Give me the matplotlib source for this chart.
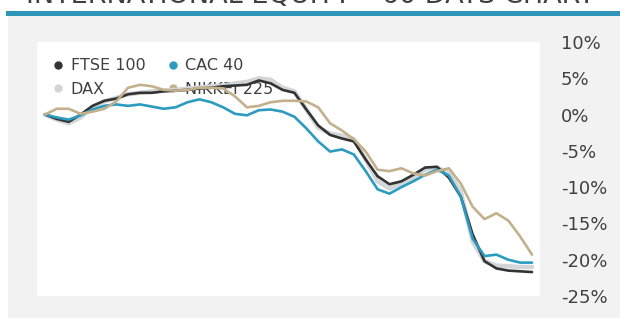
import matplotlib
matplotlib.use("Agg")
from matplotlib import pyplot as plt
from matplotlib.lines import Line2D
from matplotlib.patches import Rectangle
from matplotlib.ticker import FuncFormatter

# daily % change over the 60 day window
ftse = [0.0, -0.6, -1.0, 0.0, 1.2, 1.9, 2.2, 2.8, 3.0, 3.0, 3.2, 3.3, 3.4, 3.6,
        3.7, 3.9, 4.0, 4.1, 4.7, 4.3, 3.4, 3.0, 0.7, -1.5, -2.8, -3.3, -3.7, -6.2,
        -8.5, -9.6, -9.2, -8.3, -7.3, -7.2, -8.7, -11.3, -16.5, -20.2, -21.2, -21.5,
        -21.6, -21.7]
cac = [0.0, -0.4, -0.7, -0.1, 0.7, 1.2, 1.4, 1.2, 1.4, 1.1, 0.8, 1.0, 1.7, 2.1,
       1.7, 1.0, 0.1, -0.1, 0.6, 0.7, 0.4, -0.3, -1.9, -3.7, -5.1, -4.8, -5.5, -7.8,
       -10.3, -10.9, -10.0, -9.2, -8.3, -7.6, -8.4, -11.3, -17.1, -19.5, -19.3,
       -20.0, -20.4, -20.4]
dax = [0.0, -0.7, -1.2, -0.4, 1.0, 1.8, 2.3, 2.8, 3.0, 3.2, 3.3, 3.4, 3.6, 3.7,
       3.9, 4.0, 4.3, 4.5, 5.0, 4.8, 3.7, 3.2, 0.7, -1.8, -2.6, -2.9, -3.4, -6.2,
       -9.2, -10.2, -9.5, -8.7, -7.6, -7.3, -8.1, -10.6, -17.5, -20.2, -20.8, -20.9,
       -21.0, -21.0]
nikkei = [0.0, 0.8, 0.8, 0.1, 0.4, 0.8, 1.8, 3.7, 4.1, 3.9, 3.4, 3.3, 3.4, 3.7,
          3.7, 3.6, 2.5, 1.0, 1.2, 1.7, 1.9, 1.9, 1.8, 1.0, -1.2, -2.2, -3.4, -5.1,
          -7.6, -7.8, -7.4, -8.1, -8.4, -7.8, -7.4, -9.5, -12.7, -14.4, -13.6, -14.6,
          -16.8, -19.3]
names = ["FTSE 100", "CAC 40", "DAX", "NIKKEI 225"]
yticks = [10, 5, 0, -5, -10, -15, -20, -25]

days = list(range(len(ftse)))
c_ftse, c_cac, c_dax, c_nik = "#333333", "#2b9bbf", "#d3d6d8", "#c3b08c"
txt = "#404040"

fig = plt.figure(figsize=(6.2, 3.18), dpi=100)
fig.patch.set_facecolor("white")
fig.patches.append(Rectangle((8 / 620, 0), 1, 1 - 16 / 318, transform=fig.transFigure,
                             facecolor="#f2f2f2", edgecolor="none", zorder=-5))
fig.patches.append(Rectangle((6 / 620, 1 - 16 / 318), 1, 5 / 318, transform=fig.transFigure,
                             facecolor="#2e95b8", edgecolor="none", zorder=-4))
# title sits mostly above the canvas in the original crop
fig.text(0.5, 1 - 3.5 / 318, "INTERNATIONAL EQUITY \u2013 60 DAYS CHART", ha="center",
         va="baseline", fontsize=19.5, color=txt)

ax = fig.add_axes([37 / 620, 1 - 296 / 318, 503 / 620, 254 / 318])
ax.set_facecolor("white")
ax.plot(days, dax, color=c_dax, lw=3.2, zorder=2, solid_capstyle="round")
ax.plot(days, ftse, color=c_ftse, lw=1.9, zorder=3, solid_capstyle="round")
ax.plot(days, cac, color=c_cac, lw=1.9, zorder=3, solid_capstyle="round")
ax.plot(days, nikkei, color=c_nik, lw=1.9, zorder=4, solid_capstyle="round")

ax.set_xlim(-0.67, len(days) - 1 + 0.67)
ax.set_ylim(-25, 10)
ax.set_yticks(yticks)
ax.yaxis.set_major_formatter(FuncFormatter(lambda v, p: f"{v:.0f}%"))
ax.yaxis.tick_right()
ax.tick_params(axis="y", length=0, pad=15, labelsize=13, labelcolor=txt)
ax.set_xticks([])
for s in ax.spines.values():
    s.set_visible(False)

handles = [Line2D([], [], ls="none", marker="o", ms=5, color=c)
           for c in (c_ftse, c_cac, c_dax, c_nik)]
leg = ax.legend([handles[0], handles[2], handles[1], handles[3]],
                [names[0], names[2], names[1], names[3]], ncol=2, frameon=False,
                loc="upper left", bbox_to_anchor=(0.01, 0.98), fontsize=11.5,
                handlelength=0.6, handletextpad=0.5, columnspacing=1.4,
                labelspacing=0.55, borderaxespad=0.3)
for t in leg.get_texts():
    t.set_color(txt)
leg.set_zorder(1)

fig.savefig("out.png", dpi=100, facecolor=fig.get_facecolor())
